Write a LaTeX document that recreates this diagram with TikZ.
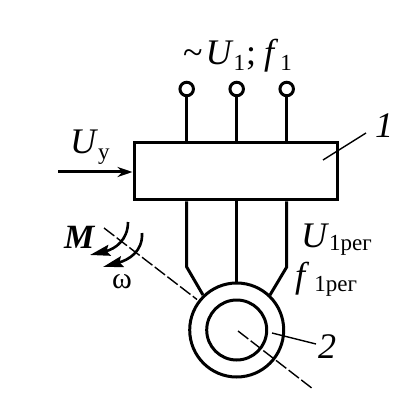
\documentclass[tikz,border=0pt]{standalone}
\usepackage{fontspec}
\setmainfont{Liberation Serif}
\usetikzlibrary{positioning,arrows.meta,calc}
\newcommand{\bigf}{\fontsize{36}{36}\selectfont}
\newcommand{\subf}{\fontsize{23}{23}\selectfont}
\tikzset{
  wire/.style={line width=3pt},
  thinline/.style={line width=1.4pt},
  axisline/.style={line width=1.4pt,dash pattern=on 13pt off 3pt},
  arcline/.style={line width=2.6pt,-{Stealth[length=20pt,width=11pt,inset=3pt]}},
  txt/.style={inner sep=0pt,anchor=base west},
}
\begin{document}
\begin{tikzpicture}[x=1pt,y=-1pt]
\useasboundingbox (0,0) rectangle (404,419);
% converter block
\node[draw,wire,minimum width=203pt,minimum height=57pt,inner sep=0pt] (box) at (235.5,171.5) {};
% supply terminals
\foreach \i/\x in {1/186.7,2/236.7,3/286.7}{
  \node[circle,draw,wire,minimum size=13.5pt,inner sep=0pt] (t\i) at (\x,89) {};
  \draw[wire] (t\i) -- (t\i|-box.north);
}
% motor
\node[circle,draw,wire,minimum size=94pt,inner sep=0pt] (stator) at (236.7,330) {};
\node[circle,draw,wire,minimum size=60pt,inner sep=0pt] (rotor) at (236.7,330) {};
% wires block to motor
\coordinate (kl) at (186.7,267);
\coordinate (kr) at (286.7,267);
\coordinate (el) at (203,295);
\coordinate (er) at (270,295);
\draw[wire] (kl|-box.south) -- (kl) -- (el);
\draw[wire] (kr|-box.south) -- (kr) -- (er);
\draw[wire] (box.south-|stator) -- (stator.north);
% input arrow
\coordinate (in) at (58,172);
\draw[wire,-{Stealth[length=15pt,width=10pt]}] (in) -- (in-|box.west);
% shaft axis
\coordinate (ax1) at (104,228);
\coordinate (ax2) at (197,299.5);
\coordinate (ax3) at (238,331);
\coordinate (ax4) at (313,389);
\draw[axisline] (ax1) -- (ax2);
\draw[axisline] (ax3) -- (ax4);
% torque and speed arcs
\coordinate (ma) at (128,222);
\coordinate (mb) at (90,255);
\coordinate (wa) at (142,233);
\coordinate (wb) at (103,267);
\draw[arcline] (ma) .. controls (128,240) and (115,249) .. (mb);
\draw[arcline] (wa) .. controls (143,252) and (128,260) .. (wb);
% leaders
\coordinate (la) at (323,160);
\coordinate (lb) at (366,133);
\coordinate (lc) at (272,333);
\coordinate (ld) at (316,344);
\draw[thinline] (la) -- (lb);
\draw[thinline] (lc) -- (ld);
% labels
\node[txt] (lone) at (375,138) {\bigf\itshape 1};
\node[txt] (ltwo) at (318,358) {\bigf\itshape 2};
\node[txt] (lm) at (64,248) {\fontsize{34}{34}\selectfont\itshape\bfseries M};
\node[txt] (lw) at (112,288) {\fontsize{30}{30}\selectfont ω};
\node[txt] (ltop) at (183,65) {\bigf\char"007E\kern3pt\textit{U}\subf\raisebox{-6pt}{1}\kern1pt\bigf;\kern8pt\textit{f}\kern2pt\subf\raisebox{-6pt}{1}};
\node[txt] (luy) at (70,154) {\bigf\textit{U}\subf\raisebox{-6pt}{у}};
\node[txt] (lu) at (301,247) {\bigf\textit{U}\subf\raisebox{-3pt}{1рег}};
\node[txt] (lf) at (295,287) {\bigf\textit{f}\kern5pt\subf\raisebox{-4pt}{1рег}};
\end{tikzpicture}
\end{document}
